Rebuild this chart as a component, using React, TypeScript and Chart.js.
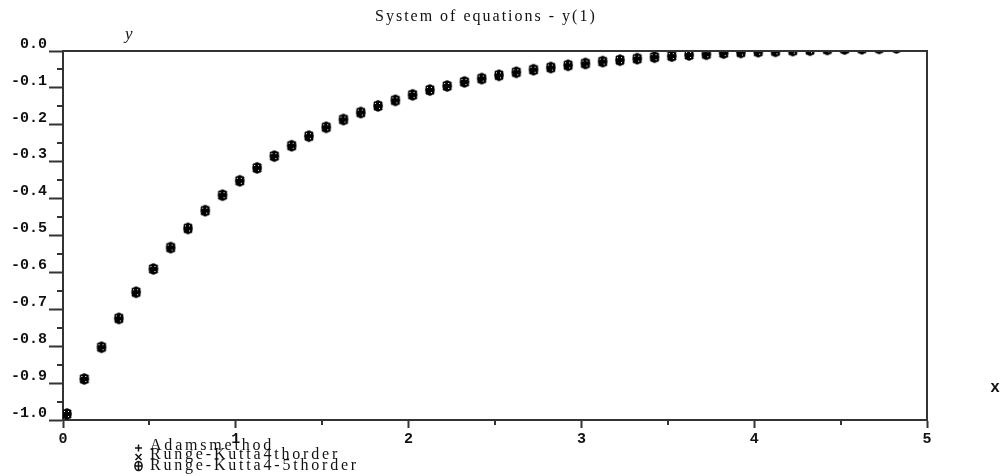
import React, { useEffect, useRef } from 'react';
import { Chart, registerables } from 'chart.js';

Chart.register(...registerables);

const TITLE = 'System of equations - y(1)';
const X_LABEL = 'x';
const Y_LABEL = 'y';
const SERIES_NAMES = ['Adamsmethod', 'Runge-Kutta4thorder', 'Runge-Kutta4-5thorder'];

const xValues = [
  0.0, 0.1, 0.2, 0.3, 0.4, 0.5, 0.6, 0.7, 0.8, 0.9,
  1.0, 1.1, 1.2, 1.3, 1.4, 1.5, 1.6, 1.7, 1.8, 1.9,
  2.0, 2.1, 2.2, 2.3, 2.4, 2.5, 2.6, 2.7, 2.8, 2.9,
  3.0, 3.1, 3.2, 3.3, 3.4, 3.5, 3.6, 3.7, 3.8, 3.9,
  4.0, 4.1, 4.2, 4.3, 4.4, 4.5, 4.6, 4.7, 4.8,
];

const adamsValues = [
  -1.0, -0.905, -0.819, -0.741, -0.67, -0.607, -0.549, -0.497, -0.449, -0.407,
  -0.368, -0.333, -0.301, -0.273, -0.247, -0.223, -0.202, -0.183, -0.165, -0.15,
  -0.135, -0.122, -0.111, -0.1, -0.091, -0.082, -0.074, -0.067, -0.061, -0.055,
  -0.05, -0.045, -0.041, -0.037, -0.033, -0.03, -0.027, -0.025, -0.022, -0.02,
  -0.018, -0.017, -0.015, -0.014, -0.012, -0.011, -0.01, -0.009, -0.008,
];

const rk4Values = [
  -1.0, -0.905, -0.819, -0.741, -0.67, -0.607, -0.549, -0.497, -0.449, -0.407,
  -0.368, -0.333, -0.301, -0.273, -0.247, -0.223, -0.202, -0.183, -0.165, -0.15,
  -0.135, -0.122, -0.111, -0.1, -0.091, -0.082, -0.074, -0.067, -0.061, -0.055,
  -0.05, -0.045, -0.041, -0.037, -0.033, -0.03, -0.027, -0.025, -0.022, -0.02,
  -0.018, -0.017, -0.015, -0.014, -0.012, -0.011, -0.01, -0.009, -0.008,
];

const rk45Values = [
  -1.0, -0.905, -0.819, -0.741, -0.67, -0.607, -0.549, -0.497, -0.449, -0.407,
  -0.368, -0.333, -0.301, -0.273, -0.247, -0.223, -0.202, -0.183, -0.165, -0.15,
  -0.135, -0.122, -0.111, -0.1, -0.091, -0.082, -0.074, -0.067, -0.061, -0.055,
  -0.05, -0.045, -0.041, -0.037, -0.033, -0.03, -0.027, -0.025, -0.022, -0.02,
  -0.018, -0.017, -0.015, -0.014, -0.012, -0.011, -0.01, -0.009, -0.008,
];

const xTickLabels = ['0', '1', '2', '3', '4', '5'];
const yTickLabels = ['-1.0', '-0.9', '-0.8', '-0.7', '-0.6', '-0.5', '-0.4', '-0.3', '-0.2', '-0.1', '0.0'];

const AXIS = '#333333';
const INK = '#111111';
const TICK_FONT = { family: '"Liberation Mono", monospace', size: 15, weight: 'bold' as const };

const isMajorX = (v: number) => Math.abs(v - Math.round(v)) < 1e-6;
const isMajorY = (v: number) => Math.abs(v * 10 - Math.round(v * 10)) < 1e-6;

type Kind = 'plus' | 'cross' | 'blob';

function makeGlyph(kind: Kind): HTMLCanvasElement {
  const c = document.createElement('canvas');
  c.width = 30;
  c.height = 30;
  const g = c.getContext('2d')!;
  const gx = 19;
  const gy = 9;
  g.strokeStyle = '#000';
  g.fillStyle = '#000';
  g.lineWidth = 2;
  if (kind === 'plus') {
    g.beginPath();
    g.moveTo(gx - 4, gy);
    g.lineTo(gx + 4, gy);
    g.moveTo(gx, gy - 5);
    g.lineTo(gx, gy + 5);
    g.stroke();
  } else if (kind === 'cross') {
    g.beginPath();
    g.moveTo(gx - 4, gy - 4);
    g.lineTo(gx + 4, gy + 4);
    g.moveTo(gx + 4, gy - 4);
    g.lineTo(gx - 4, gy + 4);
    g.stroke();
  } else {
    g.beginPath();
    g.ellipse(gx, gy, 4.8, 5.8, 0, 0, Math.PI * 2);
    g.fill();
    g.fillStyle = '#fff';
    g.fillRect(gx - 3, gy - 3, 1, 1);
    g.fillRect(gx + 1, gy - 3, 1, 1);
    g.fillRect(gx + 1, gy + 2, 1, 1);
  }
  return c;
}

function drawLegendSymbol(ctx: CanvasRenderingContext2D, kind: Kind, x: number, y: number) {
  ctx.save();
  ctx.strokeStyle = INK;
  ctx.lineWidth = 1.5;
  ctx.beginPath();
  if (kind === 'plus') {
    ctx.moveTo(x - 3.5, y);
    ctx.lineTo(x + 3.5, y);
    ctx.moveTo(x, y - 3.5);
    ctx.lineTo(x, y + 3.5);
  } else if (kind === 'cross') {
    ctx.moveTo(x - 3, y - 3);
    ctx.lineTo(x + 3, y + 3);
    ctx.moveTo(x + 3, y - 3);
    ctx.lineTo(x - 3, y + 3);
  } else {
    ctx.ellipse(x, y, 3.6, 4.6, 0, 0, Math.PI * 2);
    ctx.moveTo(x - 3.6, y);
    ctx.lineTo(x + 3.6, y);
    ctx.moveTo(x, y - 4.6);
    ctx.lineTo(x, y + 4.6);
  }
  ctx.stroke();
  ctx.restore();
}

const KINDS: Kind[] = ['plus', 'cross', 'blob'];

const decorPlugin = {
  id: 'decor',
  beforeDatasetsDraw(chart: any) {
    const ctx: CanvasRenderingContext2D = chart.ctx;
    const { left, right, top, bottom } = chart.chartArea;
    ctx.save();
    ctx.beginPath();
    ctx.rect(left, top, right - left, bottom - top);
    ctx.clip();
  },
  afterDatasetsDraw(chart: any) {
    chart.ctx.restore();
  },
  afterDraw(chart: any) {
    const ctx: CanvasRenderingContext2D = chart.ctx;
    const { left, right, top, bottom } = chart.chartArea;
    const xs = chart.scales.x;
    const ys = chart.scales.y;
    ctx.save();
    ctx.strokeStyle = AXIS;
    ctx.lineWidth = 2;
    ctx.beginPath();
    ctx.moveTo(left, top);
    ctx.lineTo(right, top);
    ctx.lineTo(right, bottom);
    ctx.stroke();

    // minor ticks
    ctx.beginPath();
    ys.ticks.forEach((t: any) => {
      if (!isMajorY(t.value)) {
        const p = Math.round(ys.getPixelForValue(t.value));
        ctx.moveTo(left - 6, p);
        ctx.lineTo(left, p);
      }
    });
    xs.ticks.forEach((t: any) => {
      if (!isMajorX(t.value)) {
        const p = Math.round(xs.getPixelForValue(t.value));
        ctx.moveTo(p, bottom);
        ctx.lineTo(p, bottom + 5);
      }
    });
    ctx.stroke();

    // title
    ctx.fillStyle = INK;
    ctx.font = '16px "Liberation Serif", serif';
    (ctx as any).letterSpacing = '2px';
    ctx.textAlign = 'left';
    ctx.textBaseline = 'alphabetic';
    ctx.fillText(TITLE, 375, 21);
    (ctx as any).letterSpacing = '0px';

    // axis names
    ctx.font = 'italic 17px "Liberation Serif", serif';
    ctx.fillText(Y_LABEL, 125, 39);
    ctx.font = 'bold 16px "Liberation Mono", monospace';
    ctx.textBaseline = 'middle';
    ctx.textAlign = 'center';
    ctx.fillText(X_LABEL, 995, 388);

    // legend (overlapping rows as in the original)
    const baselines = [450, 459, 470];
    const symY = [448, 457, 466];
    ctx.textAlign = 'left';
    ctx.textBaseline = 'alphabetic';
    ctx.font = '16px "Liberation Serif", serif';
    (ctx as any).letterSpacing = '2.8px';
    chart.data.datasets.forEach((ds: any, i: number) => {
      drawLegendSymbol(ctx, KINDS[i], 138.5, symY[i]);
      ctx.fillStyle = INK;
      ctx.fillText(ds.label, 150, baselines[i]);
    });
    (ctx as any).letterSpacing = '0px';
    ctx.restore();
  },
};

export default function App() {
  const ref = useRef<HTMLCanvasElement | null>(null);

  useEffect(() => {
    if (!ref.current) return;
    const glyphs = KINDS.map((k) => makeGlyph(k));
    const series = [adamsValues, rk4Values, rk45Values];
    const orders = [2, 1, 0];
    const chart = new Chart(ref.current, {
      type: 'scatter',
      data: {
        datasets: series.map((vals, i) => ({
          label: SERIES_NAMES[i],
          data: xValues.map((x, j) => ({ x, y: vals[j] })),
          pointStyle: glyphs[i] as any,
          pointRadius: 5,
          showLine: false,
          clip: 0,
          order: orders[i],
        })),
      },
      options: {
        animation: false,
        responsive: false,
        devicePixelRatio: 1,
        layout: { padding: { left: 0, top: 51, right: 76, bottom: 0 } },
        plugins: {
          legend: { display: false },
          tooltip: { enabled: false },
          title: { display: false },
        },
        scales: {
          x: {
            type: 'linear',
            min: 0,
            max: 5,
            afterFit: (s: any) => {
              s.height = 56;
            },
            border: { display: true, color: AXIS, width: 2 },
            grid: {
              display: true,
              drawOnChartArea: false,
              drawTicks: true,
              tickLength: 8,
              tickWidth: 2,
              tickColor: (c: any) => (c.tick && isMajorX(c.tick.value) ? AXIS : 'rgba(0,0,0,0)'),
            },
            ticks: {
              stepSize: 0.5,
              autoSkip: false,
              maxRotation: 0,
              padding: 2,
              color: INK,
              font: TICK_FONT,
              callback: (v: any) => (isMajorX(Number(v)) ? xTickLabels[Math.round(Number(v))] : ''),
            },
          },
          y: {
            type: 'linear',
            min: -1,
            max: 0,
            afterFit: (s: any) => {
              s.width = 63;
            },
            border: { display: true, color: AXIS, width: 2 },
            grid: {
              display: true,
              drawOnChartArea: false,
              drawTicks: true,
              tickLength: 14,
              tickWidth: 2,
              tickColor: (c: any) => (c.tick && isMajorY(c.tick.value) ? AXIS : 'rgba(0,0,0,0)'),
            },
            ticks: {
              stepSize: 0.05,
              autoSkip: false,
              padding: 2,
              labelOffset: -7,
              color: INK,
              font: TICK_FONT,
              callback: (v: any) => {
                const n = Number(v);
                if (!isMajorY(n)) return '';
                return yTickLabels[Math.round((n + 1) * 10)];
              },
            },
          },
        },
      },
      plugins: [decorPlugin],
    });
    return () => chart.destroy();
  }, []);

  return (
    <div style={{ position: 'fixed', left: 0, top: 0, width: 1003, height: 476, background: '#fff' }}>
      <canvas ref={ref} width={1003} height={476} style={{ display: 'block', width: 1003, height: 476 }} />
    </div>
  );
}
